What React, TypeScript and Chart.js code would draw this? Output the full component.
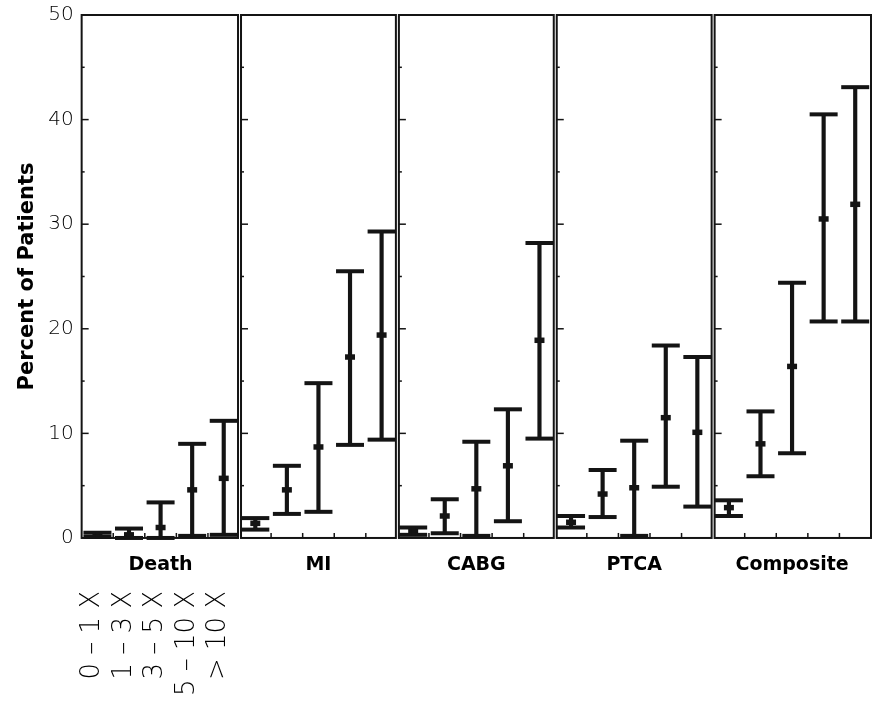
import React, { useEffect, useRef } from 'react';
import { Chart, registerables } from 'chart.js';
Chart.register(...registerables);

const outcomes = ['Death', 'MI', 'CABG', 'PTCA', 'Composite'];
const ratioGroups = ['0 – 1 X', '1 – 3 X', '3 – 5 X', '5 – 10 X', '> 10 X'];
const yMin = 0;
const yMax = 50;
const yStep = 10;

const deathMean = [0.3, 0.3, 1.0, 4.6, 5.7];
const deathLow = [0.1, 0.0, 0.0, 0.2, 0.3];
const deathHigh = [0.5, 0.9, 3.4, 9.0, 11.2];

const miMean = [1.4, 4.6, 8.7, 17.3, 19.4];
const miLow = [0.8, 2.3, 2.5, 8.9, 9.4];
const miHigh = [1.9, 6.9, 14.8, 25.5, 29.3];

const cabgMean = [0.6, 2.1, 4.7, 6.9, 18.9];
const cabgLow = [0.3, 0.45, 0.2, 1.6, 9.5];
const cabgHigh = [1.0, 3.7, 9.2, 12.3, 28.2];

const ptcaMean = [1.5, 4.2, 4.8, 11.5, 10.1];
const ptcaLow = [1.0, 2.0, 0.2, 4.9, 3.0];
const ptcaHigh = [2.1, 6.5, 9.3, 18.4, 17.3];

const compMean = [2.9, 9.0, 16.4, 30.5, 31.9];
const compLow = [2.1, 5.9, 8.1, 20.7, 20.7];
const compHigh = [3.6, 12.1, 24.4, 40.5, 43.1];

const allMean = [...deathMean, ...miMean, ...cabgMean, ...ptcaMean, ...compMean];
const allLow = [...deathLow, ...miLow, ...cabgLow, ...ptcaLow, ...compLow];
const allHigh = [...deathHigh, ...miHigh, ...cabgHigh, ...ptcaHigh, ...compHigh];
const slotLabels = outcomes.flatMap((o) => ratioGroups.map((g) => `${o} ${g}`));
const groupLabels = outcomes.flatMap(() => ratioGroups);

const INK = '#141414';

const panelFrame = {
  id: 'panelFrame',
  afterDatasetsDraw(chart: any) {
    const { ctx, chartArea, scales } = chart;
    const { top, bottom } = chartArea;
    const x = scales.x;
    const y = scales.y;
    const per = ratioGroups.length;
    const n = outcomes.length;
    const half = (x.getPixelForValue(1) - x.getPixelForValue(0)) / 2;
    ctx.save();
    ctx.strokeStyle = INK;
    for (let i = 0; i < n; i++) {
      const l0 = x.getPixelForValue(i * per) - half;
      const r0 = x.getPixelForValue(i * per + per - 1) + half;
      const l = l0 + (i > 0 ? 1.5 : 0);
      const r = r0 - (i < n - 1 ? 1.5 : 0);
      ctx.lineWidth = 2;
      ctx.strokeRect(l, top, r - l, bottom - top);
      ctx.lineWidth = 1.5;
      for (let v = yMin + yStep / 2; v < yMax; v += yStep / 2) {
        const py = y.getPixelForValue(v);
        ctx.beginPath();
        ctx.moveTo(l, py);
        ctx.lineTo(l + (v % yStep === 0 ? 7 : 3), py);
        ctx.stroke();
      }
      for (let k = 1; k < per; k++) {
        const px = x.getPixelForValue(i * per + k) - half;
        ctx.beginPath();
        ctx.moveTo(px, bottom);
        ctx.lineTo(px, bottom - 5);
        ctx.stroke();
      }
    }
    ctx.restore();
  },
};

const noSidePadding = (scale: any) => {
  scale.paddingLeft = 0;
  scale.paddingRight = 0;
};

export default function App() {
  const ref = useRef<HTMLCanvasElement>(null);
  useEffect(() => {
    const canvas = ref.current;
    if (!canvas) return;
    const pointSet = (data: number[], radius: number, width: number) => ({
      type: 'line' as const,
      data,
      showLine: false,
      pointStyle: 'line' as const,
      pointRadius: radius,
      pointHoverRadius: radius,
      pointBorderWidth: width,
      pointHoverBorderWidth: width,
      pointBorderColor: INK,
      borderColor: INK,
      backgroundColor: INK,
      clip: false as any,
    });
    const chart = new Chart(canvas, {
      type: 'bar',
      data: {
        labels: slotLabels,
        datasets: [
          {
            type: 'bar',
            data: allLow.map((lo, i) => [lo, allHigh[i]]) as any,
            backgroundColor: INK,
            borderWidth: 0,
            barThickness: 3.5,
          },
          pointSet(allHigh, 14, 4),
          pointSet(allLow, 14, 4),
          pointSet(allMean, 5, 5.5),
        ],
      },
      options: {
        responsive: false,
        animation: false,
        events: [],
        layout: { autoPadding: false, padding: { top: 15, right: 7, left: 15, bottom: 7 } },
        plugins: { legend: { display: false }, tooltip: { enabled: false } },
        scales: {
          x: { type: 'category', display: false, offset: true },
          xName: {
            type: 'category',
            labels: outcomes,
            position: 'bottom',
            offset: true,
            weight: 0,
            afterFit: noSidePadding,
            grid: { display: false, drawTicks: false },
            border: { display: false },
            ticks: {
              autoSkip: false,
              maxRotation: 0,
              minRotation: 0,
              padding: 16,
              color: '#000',
              font: { family: 'DejaVu Sans', weight: 'bold', size: 19 },
            },
          },
          xGroup: {
            type: 'category',
            labels: groupLabels,
            position: 'bottom',
            offset: true,
            weight: 1,
            afterFit: noSidePadding,
            grid: { display: false, drawTicks: false },
            border: { display: false },
            ticks: {
              autoSkip: false,
              minRotation: 90,
              maxRotation: 90,
              padding: -2,
              labelOffset: -5,
              color: '#000',
              font: { family: 'DejaVu Sans', weight: 300 as any, size: 26 },
              callback: (_v: any, i: number) => (i < ratioGroups.length ? groupLabels[i] : null),
            },
          },
          y: {
            min: yMin,
            max: yMax,
            afterFit: (scale: any) => {
              scale.paddingTop = 0;
              scale.paddingBottom = 0;
            },
            grid: { display: false, drawTicks: false },
            border: { display: false },
            ticks: {
              stepSize: yStep,
              padding: 8,
              color: '#000',
              font: { family: 'DejaVu Sans', weight: 300 as any, size: 20 },
            },
            title: {
              display: true,
              text: 'Percent of Patients',
              color: '#000',
              padding: { top: 0, bottom: 0 },
              font: { family: 'DejaVu Sans', weight: 'bold', size: 21 },
            },
          },
        },
      },
      plugins: [panelFrame],
    } as any);
    return () => chart.destroy();
  }, []);
  return (
    <div style={{ position: 'fixed', left: 0, top: 0, width: 878, height: 701, background: '#fff' }}>
      <canvas ref={ref} width={878} height={701} />
    </div>
  );
}
